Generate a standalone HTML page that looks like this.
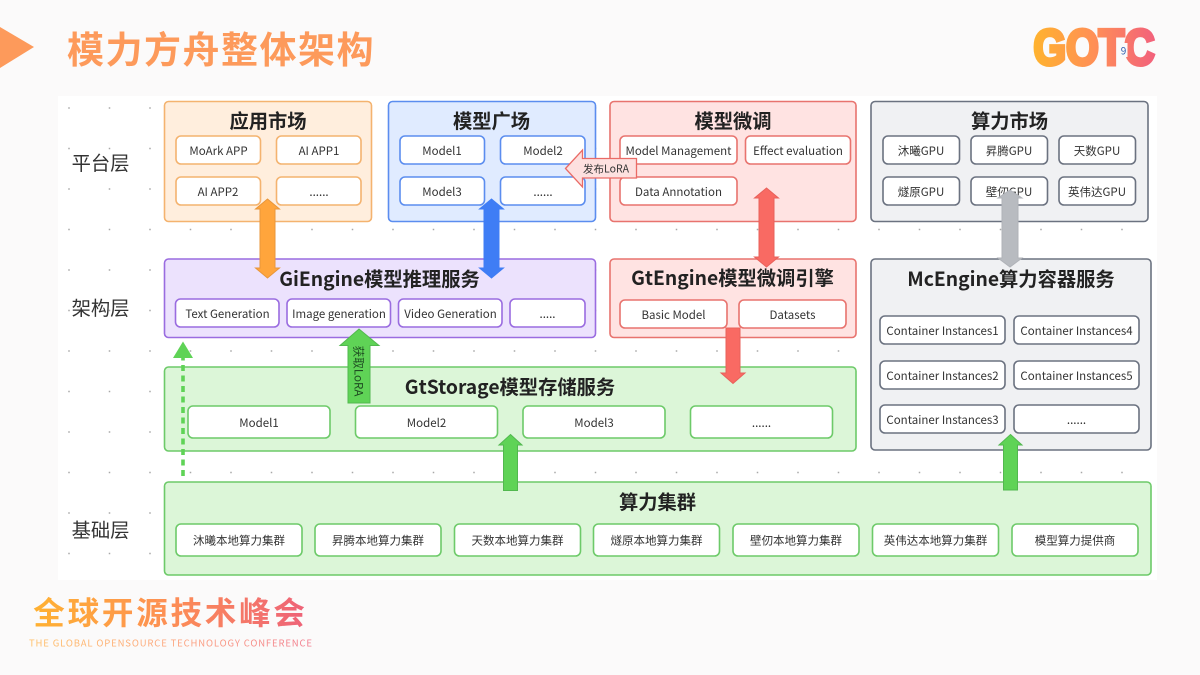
<!DOCTYPE html>
<html lang="zh">
<head>
<meta charset="utf-8">
<style>
html,body{margin:0;padding:0;width:1200px;height:675px;overflow:hidden;background:#fbfafa}
svg{display:block}
text{font-family:"Noto Sans CJK SC","Liberation Sans",sans-serif;text-anchor:middle;dominant-baseline:central;fill:#333}
.t{font-size:19.3px;font-weight:700;fill:#222;transform:translateY(-1px)}
.c{font-size:11.5px;fill:#333}
.l{font-size:19.3px;fill:#333;transform:translate(-.5px,-1px)}
.o rect.p{fill:#ffeedd;stroke:#f4b36f}.b rect.p{fill:#e0ebff;stroke:#5b8def}.r rect.p{fill:#ffe3e2;stroke:#e8736e}
.g rect.p{fill:#f0f1f3;stroke:#6b7280}.v rect.p{fill:#ece2fd;stroke:#9a6ce0}.n rect.p{fill:#dcf6d8;stroke:#6dca69}
rect.p{stroke-width:1.6}
.o rect.k{stroke:#f4b36f}.b rect.k{stroke:#5b8def}.r rect.k{stroke:#e8736e}.g rect.k{stroke:#6b7280}.v rect.k{stroke:#9a6ce0}.n rect.k{stroke:#6dca69}
rect.k{fill:#fff;stroke-width:1.6}
</style>
</head>
<body>
<svg width="1200" height="675" viewBox="0 0 1200 675" xmlns="http://www.w3.org/2000/svg">
<defs>
<linearGradient id="lg" gradientUnits="userSpaceOnUse" x1="1033" y1="0" x2="1156" y2="0"><stop offset="0" stop-color="#ffb32e"/><stop offset=".5" stop-color="#ff8f56"/><stop offset="1" stop-color="#f2607c"/></linearGradient>
<linearGradient id="fg" gradientUnits="userSpaceOnUse" x1="34" y1="0" x2="305" y2="0"><stop offset="0" stop-color="#ffb132"/><stop offset=".5" stop-color="#fd8f55"/><stop offset="1" stop-color="#ee6378"/></linearGradient>
<linearGradient id="sg" gradientUnits="userSpaceOnUse" x1="29" y1="0" x2="312" y2="0"><stop offset="0" stop-color="#ffc16a"/><stop offset=".5" stop-color="#fda77f"/><stop offset="1" stop-color="#f27f91"/></linearGradient>
<pattern id="dots" x="69" y="108" width="40.5" height="40.5" patternUnits="userSpaceOnUse"><rect x="-.75" y="-.75" width="1.5" height="1.5" fill="#a8a8a8"/><rect x="39.75" y="-.75" width="1.5" height="1.5" fill="#a8a8a8"/><rect x="-.75" y="39.75" width="1.5" height="1.5" fill="#a8a8a8"/><rect x="39.75" y="39.75" width="1.5" height="1.5" fill="#a8a8a8"/></pattern>
</defs>

<rect width="1200" height="675" fill="#fbfafa"/>
<rect x="58" y="96" width="1099" height="484" fill="#fff"/>
<rect x="68" y="107" width="1056" height="448" fill="url(#dots)"/>

<polygon points="0,27 34,47 0,68" fill="#fd9a5b"/>
<text x="221" y="47" style="font-size:37px;font-weight:700;fill:#fd9a5b;letter-spacing:1.5px">模力方舟整体架构</text>

<text x="1094" y="47.500" textLength="121" lengthAdjust="spacingAndGlyphs" style="font-family:'Liberation Sans',sans-serif;font-size:50px;font-weight:700;fill:url(#lg);stroke:url(#lg);stroke-width:4px">GOTC</text>
<rect x="1119.500" y="43" width="8" height="14" fill="#fbfafa"/>
<text x="1123.5" y="50" style="font-size:10px;fill:#2f5fae">9</text>

<text x="101" y="163" class="l">平台层</text>
<text x="101" y="308" class="l">架构层</text>
<text x="101" y="530" class="l">基础层</text>

<g class="o">
<rect class="p" x="164.5" y="101.5" width="207" height="120" rx="4"/>
<text x="268" y="121" class="t">应用市场</text>
<rect class="k" x="176" y="136" width="84.5" height="28" rx="5"/><text x="218.500" y="151" class="c">MoArk APP</text>
<rect class="k" x="276.500" y="136" width="84.5" height="28" rx="5"/><text x="319" y="151" class="c">AI APP1</text>
<rect class="k" x="176" y="177" width="84.5" height="28" rx="5"/><text x="218" y="192" class="c">AI APP2</text>
<rect class="k" x="276.500" y="177" width="84.5" height="28" rx="5"/><text x="319" y="192" class="c">......</text>
</g>

<g class="b">
<rect class="p" x="388.5" y="101.5" width="207" height="120" rx="4"/>
<text x="491.500" y="121" class="t">模型广场</text>
<rect class="k" x="400" y="136" width="84.5" height="28" rx="5"/><text x="442" y="151" class="c">Model1</text>
<rect class="k" x="500.5" y="136" width="84.5" height="28" rx="5"/><text x="543" y="151" class="c">Model2</text>
<rect class="k" x="400" y="177" width="84.5" height="28" rx="5"/><text x="442" y="192" class="c">Model3</text>
<rect class="k" x="500.5" y="177" width="84.5" height="28" rx="5"/><text x="543" y="192" class="c">......</text>
</g>

<g class="r">
<rect class="p" x="610" y="101.5" width="246" height="120" rx="4"/>
<text x="733" y="121" class="t">模型微调</text>
<rect class="k" x="620" y="136" width="117" height="28" rx="5"/><text x="678.500" y="151" class="c">Model Management</text>
<rect class="k" x="745.5" y="136" width="105" height="28" rx="5"/><text x="798" y="151" class="c">Effect evaluation</text>
<rect class="k" x="620" y="177" width="117" height="28" rx="5"/><text x="678.500" y="192" class="c">Data Annotation</text>
</g>

<g class="g">
<rect class="p" x="871" y="101.5" width="277" height="120" rx="4"/>
<text x="1009.5" y="121" class="t">算力市场</text>
<rect class="k" x="883" y="136" width="76.5" height="28" rx="5"/><text x="921" y="151" class="c">沐曦GPU</text>
<rect class="k" x="971" y="136" width="76.5" height="28" rx="5"/><text x="1009" y="151" class="c">昇腾GPU</text>
<rect class="k" x="1059" y="136" width="76.5" height="28" rx="5"/><text x="1097" y="151" class="c">天数GPU</text>
<rect class="k" x="883" y="177" width="76.5" height="28" rx="5"/><text x="921" y="192" class="c">燧原GPU</text>
<rect class="k" x="971" y="177" width="76.5" height="28" rx="5"/><text x="1009" y="192" class="c">壁仞GPU</text>
<rect class="k" x="1059" y="177" width="76.5" height="28" rx="5"/><text x="1097" y="192" class="c">英伟达GPU</text>
</g>

<g class="v">
<rect class="p" x="164.5" y="259" width="431" height="78.500" rx="4"/>
<text x="379.500" y="279" class="t">GiEngine模型推理服务</text>
<rect class="k" x="175.500" y="299" width="103.500" height="28" rx="5"/><text x="227.5" y="314" class="c">Text Generation</text>
<rect class="k" x="287" y="299" width="103.500" height="28" rx="5"/><text x="339" y="314" class="c">Image generation</text>
<rect class="k" x="398.500" y="299" width="103.500" height="28" rx="5"/><text x="450.500" y="314" class="c">Video Generation</text>
<rect class="k" x="510" y="299" width="75" height="28" rx="5"/><text x="547.500" y="314" class="c">.....</text>
</g>

<g class="r">
<rect class="p" x="610" y="259" width="246" height="78.500" rx="4"/>
<text x="732.500" y="278" class="t">GtEngine模型微调引擎</text>
<rect class="k" x="620" y="300" width="107" height="28" rx="5"/><text x="673.500" y="315" class="c">Basic Model</text>
<rect class="k" x="739" y="300" width="107" height="28" rx="5"/><text x="792.500" y="315" class="c">Datasets</text>
</g>

<g class="g">
<rect class="p" x="871" y="259" width="280" height="191" rx="4"/>
<text x="1011" y="279" class="t">McEngine算力容器服务</text>
<rect class="k" x="880" y="316" width="125" height="28" rx="5"/><text x="942.500" y="331" class="c">Container Instances1</text>
<rect class="k" x="1014" y="316" width="125" height="28" rx="5"/><text x="1076.500" y="331" class="c">Container Instances4</text>
<rect class="k" x="880" y="361" width="125" height="28" rx="5"/><text x="942.500" y="376" class="c">Container Instances2</text>
<rect class="k" x="1014" y="361" width="125" height="28" rx="5"/><text x="1076.500" y="376" class="c">Container Instances5</text>
<rect class="k" x="880" y="405" width="125" height="28" rx="5"/><text x="942.500" y="420" class="c">Container Instances3</text>
<rect class="k" x="1014" y="405" width="125" height="28" rx="5"/><text x="1076.500" y="420" class="c">......</text>
</g>

<g class="n">
<rect class="p" x="164.5" y="367" width="691.500" height="84" rx="4"/>
<text x="510" y="387" class="t">GtStorage模型存储服务</text>
<rect class="k" x="188" y="406" width="142" height="32" rx="5"/><text x="259" y="423" class="c">Model1</text>
<rect class="k" x="355.500" y="406" width="142" height="32" rx="5"/><text x="426.500" y="423" class="c">Model2</text>
<rect class="k" x="523" y="406" width="142" height="32" rx="5"/><text x="594" y="423" class="c">Model3</text>
<rect class="k" x="690.500" y="406" width="142" height="32" rx="5"/><text x="761.500" y="423" class="c">......</text>
</g>

<g class="n">
<rect class="p" x="164.5" y="482" width="986.500" height="93" rx="4"/>
<text x="657.500" y="502" class="t">算力集群</text>
<rect class="k" x="176" y="524" width="126" height="32" rx="5"/><text x="239" y="540.500" class="c">沐曦本地算力集群</text>
<rect class="k" x="315" y="524" width="126" height="32" rx="5"/><text x="378" y="540.500" class="c">昇腾本地算力集群</text>
<rect class="k" x="454.500" y="524" width="126" height="32" rx="5"/><text x="517.500" y="540.500" class="c">天数本地算力集群</text>
<rect class="k" x="593.500" y="524" width="126" height="32" rx="5"/><text x="656.500" y="540.500" class="c">燧原本地算力集群</text>
<rect class="k" x="733" y="524" width="126" height="32" rx="5"/><text x="796" y="540.500" class="c">壁仞本地算力集群</text>
<rect class="k" x="872.500" y="524" width="126" height="32" rx="5"/><text x="935.500" y="540.500" class="c">英伟达本地算力集群</text>
<rect class="k" x="1012" y="524" width="126" height="32" rx="5"/><text x="1075" y="540.500" class="c">模型算力提供商</text>
</g>

<!-- double arrows -->
<polygon points="267.500,199 279.500,209 275,209 275,268 279.500,268 267.500,278 255.500,268 260,268 260,209 255.500,209" fill="#ffa53c" stroke="#e8963a"/>
<polygon points="491.500,199 503.500,209 499,209 499,268 503.500,268 491.500,278 479.500,268 484,268 484,209 479.500,209" fill="#3f7df5" stroke="#3f7df5"/>
<polygon points="766.500,188 778.500,198 774,198 774,257 778.500,257 766.500,267 754.500,257 759,257 759,198 754.500,198" fill="#f96a63" stroke="#e8615b"/>
<polygon points="1010,190 1022,198 1018,198 1018,258 1022,258 1010,267 998,258 1002,258 1002,198 998,198" fill="#b8bbc0" stroke="#b0b3b8"/>

<!-- down red -->
<polygon points="726,328 740,328 740,373 745,373 733,383.500 721,373 726,373" fill="#f96a63" stroke="#e8615b"/>

<!-- up green -->
<polygon points="510.500,434.500 522,445 517.500,445 517.500,490.500 503.500,490.500 503.500,445 499,445" fill="#5fd356" stroke="#52b84f"/>
<polygon points="1010.500,434.500 1022,445 1017.500,445 1017.500,490 1003.500,490 1003.500,445 999,445" fill="#5fd356" stroke="#52b84f"/>

<!-- get LoRA -->
<polygon points="359,329 379,345.500 370,345.500 370,403 348,403 348,345.500 340,345.500" fill="#5fd356" stroke="#52b84f"/>
<text x="0" y="0" transform="translate(358.500,371) rotate(90)" style="font-size:11.6px;fill:#1f4d22">获取LoRA</text>

<!-- publish LoRA -->
<polygon points="565.500,168.500 582.500,150 582.500,158.500 636.500,158.500 636.500,178 582.500,178 582.500,187" fill="#fde0df" stroke="#ea6b66" stroke-width="1.3"/>
<text x="606" y="169" style="font-size:10.500px;fill:#333">发布LoRA</text>

<!-- dashed green -->
<line x1="183" y1="476" x2="183" y2="358" stroke="#5fd356" stroke-width="3.6" stroke-dasharray="6 4.5"/>
<polygon points="183,341.500 193,358 173,358" fill="#5fd356"/>

<!-- footer -->
<text x="170.500" y="611" style="font-size:31.500px;font-weight:700;fill:url(#fg);letter-spacing:2.800px">全球开源技术峰会</text>
<text x="170.500" y="642.500" textLength="283" style="font-size:9.500px;fill:url(#sg)">THE GLOBAL OPENSOURCE TECHNOLOGY CONFERENCE</text>
</svg>
</body>
</html>
